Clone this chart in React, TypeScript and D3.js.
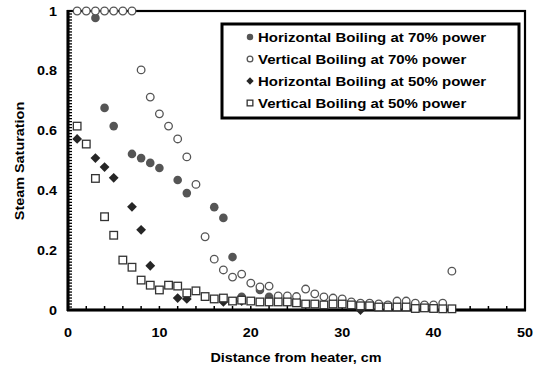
import React from "react";
import * as d3 from "d3";

// Distance from heater (cm) and steam saturation for each run
const hor70X = [3, 4, 5, 7, 8, 9, 10, 12, 13, 16, 17, 18, 19, 21, 22];
const hor70Y = [0.977, 0.676, 0.615, 0.522, 0.508, 0.492, 0.475, 0.435, 0.391, 0.344, 0.308, 0.177, 0.044, 0.067, 0.044];

const ver70X = [1, 2, 3, 4, 5, 6, 7, 8, 9, 10, 11, 12, 13, 14, 15, 16, 17, 18, 19, 20, 21, 22, 23, 24, 25, 26, 27, 28, 29, 30, 31, 32, 33, 34, 35, 36, 37, 38, 39, 40, 41, 42];
const ver70Y = [1, 1, 1, 1, 1, 1, 1, 0.803, 0.712, 0.656, 0.615, 0.572, 0.512, 0.42, 0.245, 0.17, 0.134, 0.11, 0.12, 0.09, 0.077, 0.08, 0.047, 0.047, 0.045, 0.07, 0.054, 0.044, 0.04, 0.037, 0.027, 0.023, 0.023, 0.02, 0.017, 0.03, 0.03, 0.023, 0.017, 0.017, 0.023, 0.13];

const hor50X = [1, 3, 4, 5, 7, 8, 9, 12, 13, 17, 19, 32];
const hor50Y = [0.572, 0.508, 0.478, 0.442, 0.345, 0.268, 0.148, 0.04, 0.037, 0.027, 0.03, 0.0];

const ver50X = [1, 2, 3, 4, 5, 6, 7, 8, 9, 10, 11, 12, 13, 14, 15, 16, 17, 18, 19, 20, 21, 22, 23, 24, 25, 26, 27, 28, 29, 30, 31, 32, 33, 34, 35, 36, 37, 38, 39, 40, 41, 42];
const ver50Y = [0.615, 0.555, 0.44, 0.312, 0.25, 0.167, 0.143, 0.1, 0.083, 0.067, 0.083, 0.08, 0.057, 0.064, 0.045, 0.037, 0.04, 0.03, 0.033, 0.03, 0.027, 0.027, 0.027, 0.027, 0.024, 0.02, 0.02, 0.017, 0.02, 0.02, 0.017, 0.014, 0.014, 0.01, 0.01, 0.01, 0.01, 0.005, 0.007, 0.005, 0.004, 0.004];

const seriesNames = [
  "Horizontal Boiling at 70% power",
  "Vertical Boiling at 70% power",
  "Horizontal Boiling at 50% power",
  "Vertical Boiling at 50% power",
];

const xTickLabels = [0, 10, 20, 30, 40, 50];
const yTickLabels = [0, 0.2, 0.4, 0.6, 0.8, 1];
const xTitle = "Distance from heater, cm";
const yTitle = "Steam Saturation";

const W = 537;
const H = 375;
const left = 68;
const right = 525;
const top = 11;
const bottom = 310;

const FONT = "'Liberation Sans', Arial, Helvetica, sans-serif";
const STRETCH = 1.2;

type Kind = "dot" | "ring" | "diamond" | "square";

function Marker({ kind, x, y, s = 1 }: { kind: Kind; x: number; y: number; s?: number }) {
  if (kind === "dot") return <circle cx={x} cy={y} r={4.3 * s} fill="#555" />;
  if (kind === "ring")
    return <circle cx={x} cy={y} r={3.8 * s} fill="#fff" stroke="#555" strokeWidth={1.3} />;
  if (kind === "diamond") {
    const d = 4.9 * s;
    return <path d={`M${x},${y - d}L${x + d},${y}L${x},${y + d}L${x - d},${y}Z`} fill="#262626" />;
  }
  const h = 3.8 * s;
  return <rect x={x - h} y={y - h} width={2 * h} height={2 * h} fill="#fff" stroke="#333" strokeWidth={1.3} />;
}

function Label({ x, y, anchor, size, rotate = 0, children }: any) {
  return (
    <text
      transform={`translate(${x},${y}) rotate(${rotate}) scale(${STRETCH},1)`}
      textAnchor={anchor}
      fontFamily={FONT}
      fontWeight="bold"
      fontSize={size}
      fill="#000"
    >
      {children}
    </text>
  );
}

export default function App() {
  const x = d3.scaleLinear().domain([0, 50]).range([left, right]);
  const y = d3.scaleLinear().domain([0, 1]).range([bottom, top]);

  const xMinor = d3.range(2, 50, 2);
  const yMinor = d3.range(1, 100).map((i) => i / 100);

  const series: { kind: Kind; xs: number[]; ys: number[] }[] = [
    { kind: "dot", xs: hor70X, ys: hor70Y },
    { kind: "ring", xs: ver70X, ys: ver70Y },
    { kind: "diamond", xs: hor50X, ys: hor50Y },
    { kind: "square", xs: ver50X, ys: ver50Y },
  ];

  const legX = 222;
  const legY = 24;
  const legW = 297;
  const legH = 94;
  const rowY = [37, 59, 81, 103];

  return (
    <svg
      width={W}
      height={H}
      style={{ position: "absolute", left: 0, top: 0, background: "#fff" }}
    >
      <rect x={0} y={0} width={W} height={H} fill="#fff" />

      {/* minor ticks, inside the plot */}
      {xMinor.map((v) => (
        <line key={`xt${v}`} x1={x(v)} x2={x(v)} y1={bottom} y2={bottom - 4} stroke="#000" strokeWidth={1.5} />
      ))}
      {yMinor.map((v) => (
        <line key={`yt${v}`} x1={left} x2={left + 4} y1={y(v)} y2={y(v)} stroke="#000" strokeWidth={1.3} />
      ))}

      {/* plot frame */}
      <rect x={left} y={top} width={right - left} height={bottom - top} fill="none" stroke="#000" strokeWidth={2.2} />
      <line x1={left} x2={left} y1={top - 1} y2={bottom + 1} stroke="#000" strokeWidth={3} />
      <line x1={left - 1} x2={right + 1} y1={bottom} y2={bottom} stroke="#000" strokeWidth={3} />

      {/* data */}
      {series.map((s, si) =>
        s.xs.map((xv, i) => <Marker key={`${si}-${i}`} kind={s.kind} x={x(xv)} y={y(s.ys[i])} />)
      )}

      {/* tick labels */}
      {yTickLabels.map((v) => (
        <Label key={`yl${v}`} x={57} y={y(v) + 4.5} anchor="end" size={12}>
          {String(v)}
        </Label>
      ))}
      {xTickLabels.map((v) => (
        <Label key={`xl${v}`} x={x(v)} y={337} anchor="middle" size={12}>
          {String(v)}
        </Label>
      ))}

      {/* axis titles */}
      <Label x={296} y={362} anchor="middle" size={12}>
        {xTitle}
      </Label>
      <Label x={24} y={161} anchor="middle" size={12} rotate={-90}>
        {yTitle}
      </Label>

      {/* legend */}
      <rect x={legX} y={legY} width={legW} height={legH} fill="#fff" stroke="#000" strokeWidth={3} />
      {seriesNames.map((name, i) => (
        <g key={name}>
          <Marker kind={series[i].kind} x={250} y={rowY[i]} s={0.75} />
          <Label x={258} y={rowY[i] + 4.5} anchor="start" size={12.5}>
            {name}
          </Label>
        </g>
      ))}
    </svg>
  );
}
